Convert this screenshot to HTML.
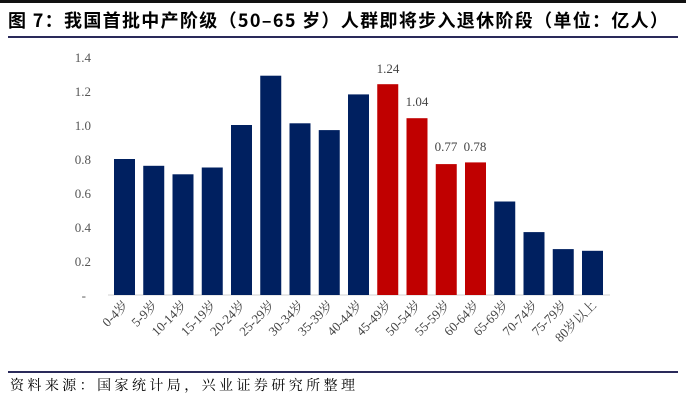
<!DOCTYPE html>
<html><head><meta charset="utf-8"><style>
body{margin:0;background:#fff;}
svg{display:block}
</style></head><body>
<svg width="686" height="402" xmlns="http://www.w3.org/2000/svg">
<rect width="686" height="402" fill="#fff"/>
<rect x="0" y="0" width="686" height="3" fill="#111"/>
<text x="8" y="27" font-family="'Noto Sans CJK SC',sans-serif" font-weight="bold" font-size="18" fill="#000" textLength="660" lengthAdjust="spacing">图 7：我国首批中产阶级（50–65 岁）人群即将步入退休阶段（单位：亿人）</text>
<rect x="8" y="36" width="670" height="2" fill="#2a2a5a"/>
<g font-family="'Liberation Serif',serif" font-size="13" fill="#555" text-anchor="end">
<text x="91" y="62">1.4</text><text x="91" y="96">1.2</text><text x="91" y="130">1.0</text>
<text x="91" y="164">0.8</text><text x="91" y="198">0.6</text><text x="91" y="232">0.4</text>
<text x="91" y="266">0.2</text><text x="86" y="300">-</text>
</g>
<line x1="108" y1="295" x2="610" y2="295" stroke="#d0d0d0" stroke-width="1"/>
<g id="bars"></g>
<g font-family="'Liberation Serif',serif" font-size="13" fill="#444" text-anchor="middle">
<text x="388" y="73">1.24</text><text x="417" y="106">1.04</text>
<text x="446" y="151">0.77</text><text x="475" y="151">0.78</text>
</g>
<g id="xl" font-family="'Liberation Serif','Noto Serif CJK SC',serif" font-size="13" fill="#444" text-anchor="end"></g>
<rect x="8" y="371" width="670" height="2" fill="#2a2a5a"/>
<text x="10" y="390" font-family="'Noto Serif CJK SC',serif" font-size="14" fill="#000" textLength="345" lengthAdjust="spacing">资料来源：国家统计局，兴业证券研究所整理</text>
<script>
var v=[0.80,0.76,0.71,0.75,1.00,1.29,1.01,0.97,1.18,1.24,1.04,0.77,0.78,0.55,0.37,0.27,0.26];
var l=["0-4岁","5-9岁","10-14岁","15-19岁","20-24岁","25-29岁","30-34岁","35-39岁","40-44岁","45-49岁","50-54岁","55-59岁","60-64岁","65-69岁","70-74岁","75-79岁","80岁以上"];
var ns="http://www.w3.org/2000/svg",b=document.getElementById("bars"),x=document.getElementById("xl");
for(var i=0;i<17;i++){var x0=114+i*29.25,h=v[i]*170;
var r=document.createElementNS(ns,"rect");r.setAttribute("x",x0);r.setAttribute("y",295-h);r.setAttribute("width",21);r.setAttribute("height",h);
r.setAttribute("fill",(i>=9&&i<=12)?"#C00000":"#002060");b.appendChild(r);
var t=document.createElementNS(ns,"text");var cx=x0+15,cy=306;t.setAttribute("x",cx);t.setAttribute("y",cy);
t.setAttribute("transform","rotate(-45 "+cx+" "+cy+")");t.textContent=l[i];x.appendChild(t);}
</script>
</svg>
</body></html>
